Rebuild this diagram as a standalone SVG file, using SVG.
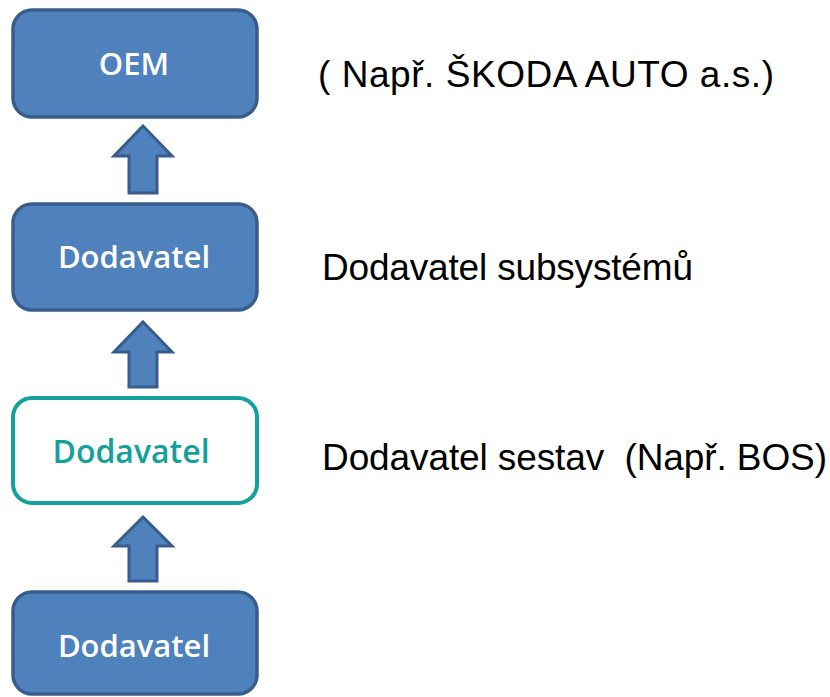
<svg xmlns="http://www.w3.org/2000/svg" width="830" height="697" viewBox="0 0 830 697">
<style>
.box{fill:#4f81bd;stroke:#385d8a;stroke-width:3.5}
.obox{fill:#ffffff;stroke:#14a09c;stroke-width:4}
.arr{fill:#4f81bd;stroke:#385d8a;stroke-width:3;stroke-linejoin:miter}
.bt{font-family:"Open Sans","Liberation Sans",sans-serif;font-weight:600;font-size:31px;fill:#ffffff;text-anchor:middle}
.tt{fill:#14a09c;font-size:32px}
.lab{font-family:"Liberation Sans",Arial,sans-serif;font-size:37px;fill:#000000;white-space:pre}
</style>
<rect width="830" height="697" fill="#ffffff"/>
<g id="oem">
<rect class="box" x="13" y="10" width="244" height="107" rx="19"/>
<text class="bt" x="134" y="75">OEM</text>
</g>
<g id="dodavatel1">
<rect class="box" x="13" y="204" width="244" height="106" rx="19"/>
<text class="bt" x="134" y="268">Dodavatel</text>
</g>
<g id="dodavatel2">
<rect class="obox" x="13" y="398" width="244" height="105" rx="19"/>
<text class="bt tt" x="131" y="463">Dodavatel</text>
</g>
<g id="dodavatel3">
<rect class="box" x="13" y="592" width="244" height="102" rx="19"/>
<text class="bt" x="134" y="657">Dodavatel</text>
</g>
<g id="connectors">
<path class="arr" d="M143 126 L172 156 L157 156 L157 193 L129 193 L129 156 L114 156 Z"/>
<path class="arr" d="M143 322 L172 352 L157 352 L157 387 L129 387 L129 352 L114 352 Z"/>
<path class="arr" d="M143 517 L172 546 L157 546 L157 581 L129 581 L129 546 L114 546 Z"/>
</g>
<g id="labels">
<text class="lab" x="318" y="87" textLength="456" lengthAdjust="spacing">( Např. ŠKODA AUTO a.s.)</text>
<text class="lab" x="322" y="280" textLength="371" lengthAdjust="spacing">Dodavatel subsystémů</text>
<text class="lab" x="322" y="470" textLength="505" lengthAdjust="spacing" xml:space="preserve">Dodavatel sestav  (Např. BOS)</text>
</g>
</svg>
